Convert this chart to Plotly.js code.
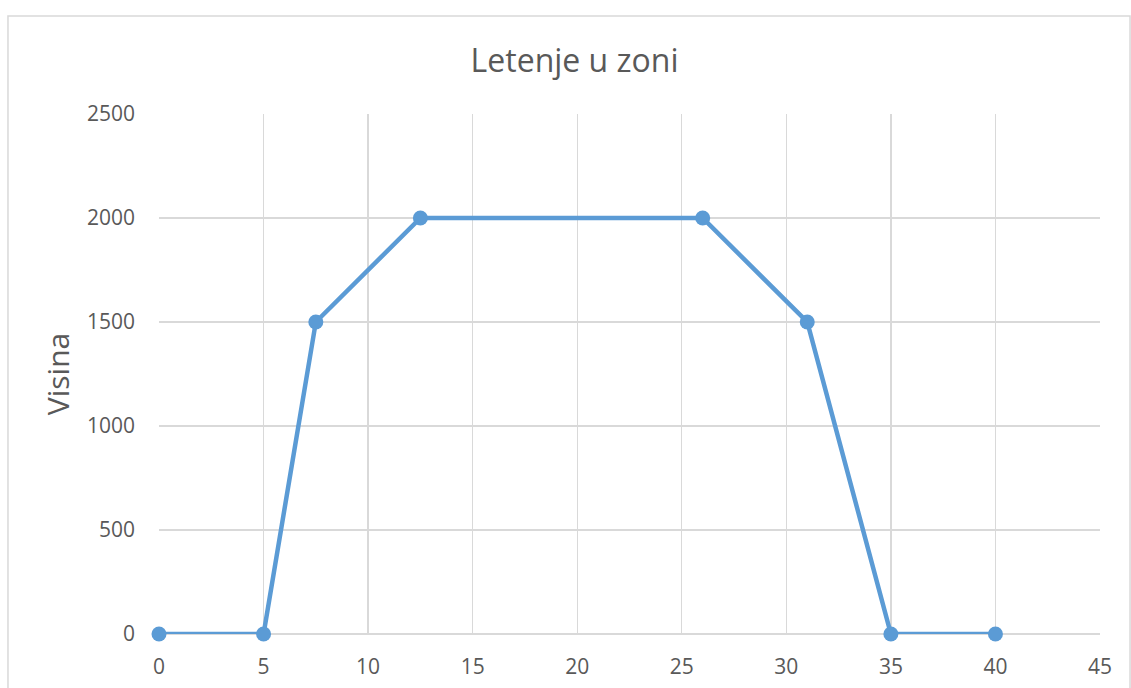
<!DOCTYPE html>
<html>
<head>
<meta charset="utf-8">
<script src="https://cdn.plot.ly/plotly-3.0.1.min.js"></script>
<style>
html,body{margin:0;padding:0;background:#fff;}
#chart{width:1131px;height:688px;}
</style>
</head>
<body>
<div id="chart"></div>
<script>
const xValues = [0, 5, 7.5, 12.5, 26, 31, 35, 40];
const heightValues = [0, 0, 1500, 2000, 2000, 1500, 0, 0];
const chartTitle = "Letenje u zoni";
const yTitle = "Visina";

const font = '"Open Sans", "Noto Sans", sans-serif';
const trace = {
  x: xValues,
  y: heightValues,
  type: 'scatter',
  mode: 'lines+markers',
  cliponaxis: false,
  line: {color: '#5b9bd5', width: 4.5},
  marker: {color: '#5b9bd5', size: 15},
  hoverinfo: 'x+y'
};

const layout = {
  width: 1131,
  height: 688,
  margin: {l: 159, r: 31, t: 114, b: 54},
  paper_bgcolor: '#ffffff',
  plot_bgcolor: '#ffffff',
  showlegend: false,
  font: {family: font, color: '#595959'},
  title: {
    text: chartTitle,
    font: {family: font, size: 32, color: '#595959'},
    x: 0.508, xanchor: 'center',
    y: 0.912, yanchor: 'middle'
  },
  xaxis: {
    range: [0, 45],
    dtick: 5,
    tick0: 0,
    showgrid: true,
    gridcolor: '#d9d9d9',
    gridwidth: 1.3,
    zeroline: false,
    showline: false,
    ticks: '',
    ticklabelstandoff: 18,
    tickfont: {family: font, size: 21, color: '#595959'},
    fixedrange: true
  },
  yaxis: {
    range: [0, 2500],
    dtick: 500,
    tick0: 0,
    showgrid: true,
    gridcolor: '#d9d9d9',
    gridwidth: 1.3,
    zeroline: true,
    zerolinecolor: '#d9d9d9',
    zerolinewidth: 1.3,
    showline: false,
    ticks: '',
    ticklabelstandoff: 23,
    tickfont: {family: font, size: 21, color: '#595959'},
    title: {text: yTitle, font: {family: font, size: 30, color: '#595959'}, standoff: 8},
    fixedrange: true
  },
  shapes: [{
    type: 'rect',
    xref: 'paper', yref: 'paper',
    x0: -0.1605, x1: 1.0319,
    y0: -0.25, y1: 1.1885,
    line: {color: '#d9d9d9', width: 1.5},
    fillcolor: 'rgba(0,0,0,0)',
    layer: 'below'
  }]
};

Plotly.newPlot('chart', [trace], layout, {displayModeBar: false, staticPlot: true});
</script>
</body>
</html>
